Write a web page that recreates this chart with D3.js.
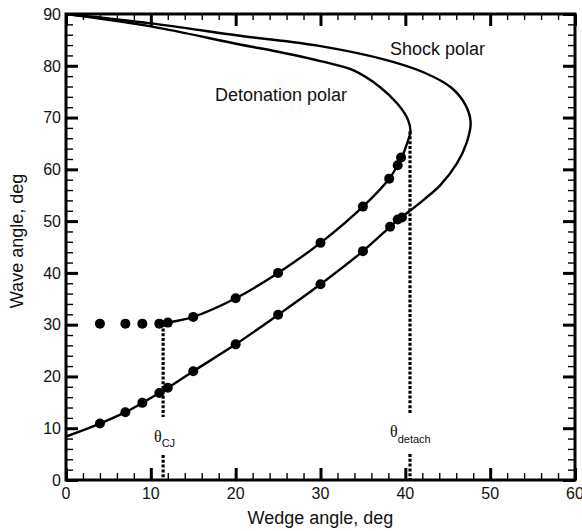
<!DOCTYPE html>
<html>
<head>
<meta charset="utf-8">
<script src="https://cdn.jsdelivr.net/npm/d3@7/dist/d3.min.js"></script>
<style>
  html, body { margin: 0; padding: 0; background: #fff; }
  svg { display: block; }
  text { font-family: "Liberation Sans", Arial, sans-serif; fill: #111; }
</style>
</head>
<body>
<svg id="chart" width="582" height="531"></svg>
<script>
// ---- data ----
const xTicks = [0, 10, 20, 30, 40, 50, 60];
const yTicks = [0, 10, 20, 30, 40, 50, 60, 70, 80, 90];

// Shock polar, traced from its lower end to (0, 90)
const shockX = [0, 4.0, 7.0, 9.0, 11.0, 12.0, 15.0, 20.0, 25.0, 30.0, 35.0, 38.2, 39.1, 40.55, 42.3, 44.1, 46.1, 47.2, 47.7, 47.1, 45.4, 42.2, 37.8, 30.0, 20.5, 10.0, 0];
const shockY = [8.4, 10.9, 13.1, 14.9, 16.8, 17.8, 21.0, 26.2, 31.9, 37.8, 44.2, 48.9, 50.2, 52.0, 54.3, 56.9, 61.2, 65.0, 69.0, 72.4, 75.8, 78.7, 81.1, 83.8, 85.8, 88.2, 90];

// Detonation polar, traced from the CJ point to (0, 90)
const detX = [11.5, 12.0, 15.0, 20.0, 25.0, 30.0, 35.0, 38.1, 39.1, 39.6, 40.2, 40.6, 40.3, 39.1, 37.0, 33.9, 30.0, 25.0, 20.5, 10.0, 0];
const detY = [30.3, 30.4, 31.5, 35.1, 40.0, 45.8, 52.8, 58.2, 60.8, 62.3, 65.0, 67.3, 69.6, 72.6, 75.9, 79.1, 80.9, 82.7, 84.1, 87.6, 90];

// Measured points on the detonation polar
const detPtX = [4, 7, 9, 11, 12, 15, 20, 25, 30, 35, 38.1, 39.1, 39.5];
const detPtY = [30.2, 30.2, 30.2, 30.2, 30.4, 31.5, 35.1, 40.0, 45.8, 52.8, 58.2, 60.8, 62.3];

// Measured points on the shock polar
const shockPtX = [4, 7, 9, 11, 12, 15, 20, 25, 30, 35, 38.2, 39.1, 39.6];
const shockPtY = [10.9, 13.1, 14.9, 16.8, 17.8, 21.0, 26.2, 31.9, 37.8, 44.2, 48.9, 50.3, 50.7];

// Special wedge angles
const thetaCJ = 11.45, thetaCJTop = 30.2;
const thetaDetach = 40.55, thetaDetachTop = 67.3;

// ---- layout ----
const svg = d3.select("#chart");
const L = 66, R = 575, T = 14, B = 480;
const x = d3.scaleLinear().domain([0, 60]).range([L, R]);
const y = d3.scaleLinear().domain([0, 90]).range([B, T]);

const minorX = d3.range(0, 61, 2).filter(v => v % 10 !== 0);
const minorY = d3.range(0, 91, 2).filter(v => v % 10 !== 0);

function ticks(axis, transform, vals, size, width) {
  const g = svg.append("g").attr("transform", transform)
    .call(axis.tickValues(vals).tickSize(size).tickFormat(""));
  g.select(".domain").remove();
  g.selectAll("line").attr("stroke", "#000").attr("stroke-width", width);
}

// Bottom
ticks(d3.axisTop(x), `translate(0,${B})`, minorX, 7, 1.4);
ticks(d3.axisTop(x), `translate(0,${B})`, xTicks, 12, 3);
svg.append("g").selectAll("text").data(xTicks).join("text")
  .attr("x", d => x(d)).attr("y", 499)
  .attr("text-anchor", "middle").attr("font-size", 16).text(d => d);
// Top
ticks(d3.axisBottom(x), `translate(0,${T})`, minorX, 6, 1.4);
ticks(d3.axisBottom(x), `translate(0,${T})`, xTicks, 12, 3);
// Left
ticks(d3.axisRight(y), `translate(${L},0)`, minorY, 7, 1.4);
ticks(d3.axisRight(y), `translate(${L},0)`, yTicks, 12, 3);
svg.append("g").selectAll("text").data(yTicks).join("text")
  .attr("x", 61).attr("y", d => y(d)).attr("dy", "0.36em")
  .attr("text-anchor", "end").attr("font-size", 16).text(d => d);
// Right
ticks(d3.axisLeft(y), `translate(${R},0)`, minorY, 7, 1.4);
ticks(d3.axisLeft(y), `translate(${R},0)`, yTicks, 12, 3);

// Frame
svg.append("rect").attr("x", L).attr("y", T).attr("width", R - L).attr("height", B - T)
  .attr("fill", "none").attr("stroke", "#000").attr("stroke-width", 3);

// Axis titles
svg.append("text").attr("x", (L + R) / 2).attr("y", 524)
  .attr("text-anchor", "middle").attr("font-size", 18).text("Wedge angle, deg");
svg.append("text").attr("transform", `translate(23,241) rotate(-90)`)
  .attr("text-anchor", "middle").attr("font-size", 18).text("Wave angle, deg");

// Curves
const line = d3.line().x(d => x(d[0])).y(d => y(d[1])).curve(d3.curveCatmullRom.alpha(0.5));
const shockPts = shockX.map((v, i) => [v, shockY[i]]);
const detPts = detX.map((v, i) => [v, detY[i]]);
svg.append("clipPath").attr("id", "plotclip").append("rect")
  .attr("x", L).attr("y", T).attr("width", R - L).attr("height", B - T);
svg.append("path").datum(shockPts).attr("d", line).attr("fill", "none")
  .attr("stroke", "#000").attr("stroke-width", 2.4).attr("clip-path", "url(#plotclip)");
svg.append("path").datum(detPts).attr("d", line).attr("fill", "none")
  .attr("stroke", "#000").attr("stroke-width", 2.4).attr("clip-path", "url(#plotclip)");

// Dotted guide lines (gap around labels)
function dotted(xv, y1, y2) {
  svg.append("line").attr("x1", x(xv)).attr("x2", x(xv)).attr("y1", y1).attr("y2", y2)
    .attr("stroke", "#000").attr("stroke-width", 3.2).attr("stroke-dasharray", "3,1.8");
}
dotted(thetaCJ, y(thetaCJTop), 417);
dotted(thetaCJ, 455, B);
dotted(thetaDetach, y(thetaDetachTop), 414);
dotted(thetaDetach, 454, B);

// Markers
const markers = detPtX.map((v, i) => [v, detPtY[i]]).concat(shockPtX.map((v, i) => [v, shockPtY[i]]));
svg.append("g").selectAll("circle").data(markers).join("circle")
  .attr("cx", d => x(d[0])).attr("cy", d => y(d[1])).attr("r", 5).attr("fill", "#000");

// Labels
svg.append("text").attr("x", 390).attr("y", 55).attr("font-size", 18).text("Shock polar");
svg.append("text").attr("x", 215).attr("y", 101).attr("font-size", 18).text("Detonation polar");

const tCJ = svg.append("text").attr("x", 154).attr("y", 442);
tCJ.append("tspan").attr("font-family", "'Liberation Serif', 'Times New Roman', serif").attr("font-size", 16).text("θ");
tCJ.append("tspan").attr("font-size", 11).attr("dy", 5).text("CJ");
const tD = svg.append("text").attr("x", 390).attr("y", 437);
tD.append("tspan").attr("font-family", "'Liberation Serif', 'Times New Roman', serif").attr("font-size", 16).text("θ");
tD.append("tspan").attr("font-size", 11).attr("dy", 6).text("detach");
</script>
</body>
</html>
